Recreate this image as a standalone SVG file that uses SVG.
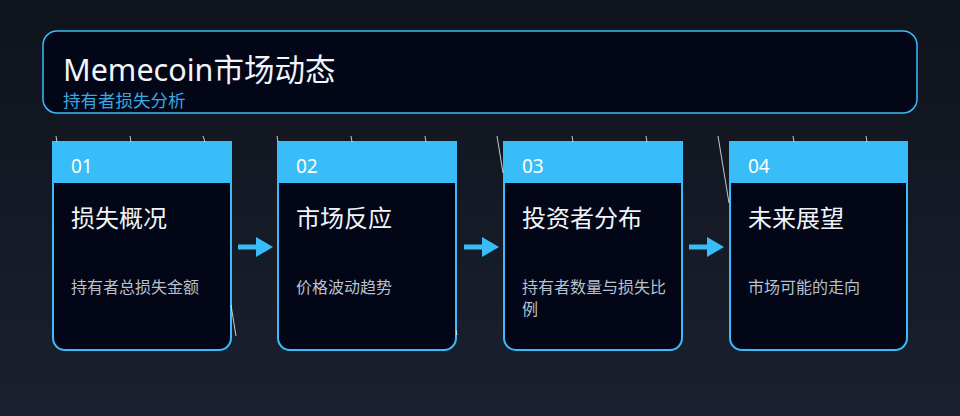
<svg xmlns="http://www.w3.org/2000/svg" width="960" height="416" viewBox="0 0 960 416">
<defs>
<linearGradient id="bg" x1="0" y1="0" x2="0" y2="1">
<stop offset="0" stop-color="#0f131b"/>
<stop offset="1" stop-color="#1b2030"/>
</linearGradient>
<path id="arrow" d="M0,-2.5 H18 V-10 L35,0 L18,10 V2.5 H0 Z"/>
</defs>
<style>
.txt{font-family:"Noto Sans","Noto Sans CJK SC",sans-serif}
.cardbody{fill:#020617;stroke:#38bdf8;stroke-width:2}
.hdr{fill:#38bdf8}
.num{font-size:19px;fill:#ffffff}
.ttl{font-size:24px;fill:#f1f5f9}
.desc{font-size:16px;fill:#b9c1cc}
.arr{fill:#38bdf8}
.sk{stroke:#e5e7eb;stroke-width:1;fill:none;opacity:0.85}
</style>
<rect width="960" height="416" fill="url(#bg)"/>
<g id="header">
<rect x="43" y="31" width="874" height="82" rx="14" fill="#020617" stroke="#38bdf8" stroke-width="1.5"/>
<text class="txt" x="63" y="81" font-size="30.5" fill="#f1f5f9">Memecoin市场动态</text>
<text class="txt" x="63" y="107" font-size="17.5" fill="#38a9e0">持有者损失分析</text>
</g>
<g id="connectors">
<use href="#arrow" class="arr" x="238" y="247"/>
<use href="#arrow" class="arr" x="464" y="247"/>
<use href="#arrow" class="arr" x="689" y="247"/>
</g>
<g id="card1">
<path class="cardbody" d="M53,142 H231 V338 A12,12 0 0 1 219,350 H65 A12,12 0 0 1 53,338 Z"/>
<rect class="hdr" x="53" y="142" width="178" height="41"/>
<text class="txt num" x="71" y="173">01</text>
<text class="txt ttl" x="71" y="227">损失概况</text>
<text class="txt desc" x="71" y="293">持有者总损失金额</text>
</g>
<g id="card2">
<path class="cardbody" d="M278,142 H456 V338 A12,12 0 0 1 444,350 H290 A12,12 0 0 1 278,338 Z"/>
<rect class="hdr" x="278" y="142" width="178" height="41"/>
<text class="txt num" x="296" y="173">02</text>
<text class="txt ttl" x="296" y="227">市场反应</text>
<text class="txt desc" x="296" y="293">价格波动趋势</text>
</g>
<g id="card3">
<path class="cardbody" d="M504,142 H682 V338 A12,12 0 0 1 670,350 H516 A12,12 0 0 1 504,338 Z"/>
<rect class="hdr" x="504" y="142" width="178" height="41"/>
<text class="txt num" x="522" y="173">03</text>
<text class="txt ttl" x="522" y="227">投资者分布</text>
<text class="txt desc" x="522" y="293">持有者数量与损失比</text>
<text class="txt desc" x="522" y="315">例</text>
</g>
<g id="card4">
<path class="cardbody" d="M730,142 H907 V338 A12,12 0 0 1 895,350 H742 A12,12 0 0 1 730,338 Z"/>
<rect class="hdr" x="730" y="142" width="177" height="41"/>
<text class="txt num" x="748" y="173">04</text>
<text class="txt ttl" x="748" y="227">未来展望</text>
<text class="txt desc" x="748" y="293">市场可能的走向</text>
</g>
<g id="sketch">
<line class="sk" x1="56" y1="136" x2="57" y2="142"/>
<line class="sk" x1="130" y1="136" x2="131" y2="142"/>
<line class="sk" x1="203" y1="136" x2="205" y2="142"/>
<line class="sk" x1="231" y1="305" x2="236" y2="336"/>
<line class="sk" x1="277" y1="136" x2="278" y2="142"/>
<line class="sk" x1="351" y1="136" x2="352" y2="142"/>
<line class="sk" x1="425" y1="136" x2="426" y2="142"/>
<line class="sk" x1="456" y1="330" x2="457" y2="335"/>
<line class="sk" x1="497" y1="136" x2="503" y2="173"/>
<line class="sk" x1="572" y1="136" x2="573" y2="142"/>
<line class="sk" x1="646" y1="136" x2="647" y2="142"/>
<line class="sk" x1="718" y1="136" x2="729" y2="203"/>
<line class="sk" x1="793" y1="136" x2="794" y2="142"/>
<line class="sk" x1="866" y1="136" x2="867" y2="142"/>
</g>
</svg>
